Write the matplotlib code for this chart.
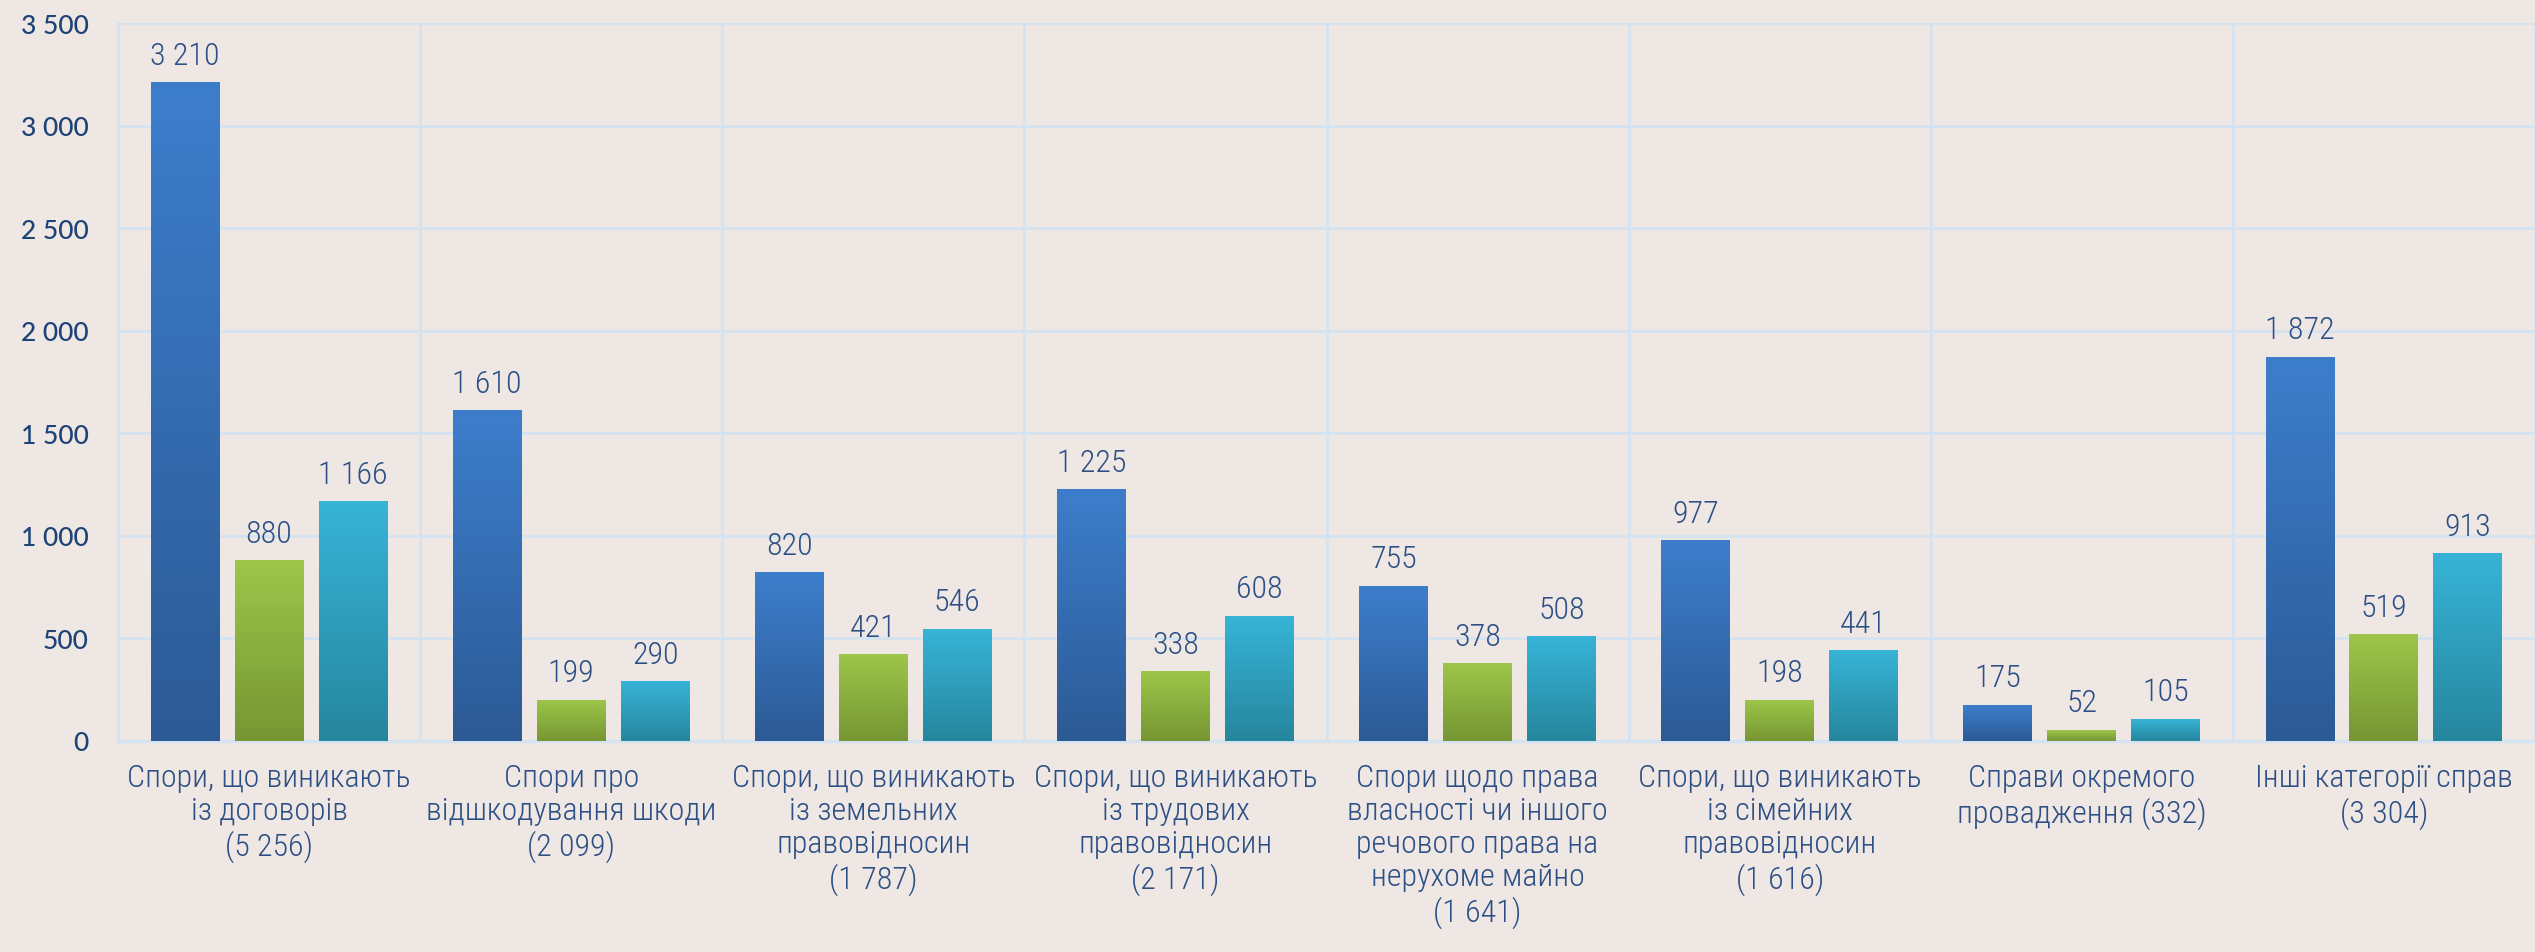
import numpy as np
import matplotlib
matplotlib.use("Agg")
import matplotlib.pyplot as plt
from matplotlib import font_manager
from matplotlib.colors import LinearSegmentedColormap
import matplotlib.patheffects as pe

categories = [
    "Спори, що виникають\nіз договорів\n(5 256)",
    "Спори про\nвідшкодування шкоди\n(2 099)",
    "Спори, що виникають\nіз земельних\nправовідносин\n(1 787)",
    "Спори, що виникають\nіз трудових\nправовідносин\n(2 171)",
    "Спори щодо права\nвласності чи іншого\nречового права на\nнерухоме майно\n(1 641)",
    "Спори, що виникають\nіз сімейних\nправовідносин\n(1 616)",
    "Справи окремого\nпровадження (332)",
    "Інші категорії справ\n(3 304)",
]
blue_vals = [3210, 1610, 820, 1225, 755, 977, 175, 1872]
green_vals = [880, 199, 421, 338, 378, 198, 52, 519]
teal_vals = [1166, 290, 546, 608, 508, 441, 105, 913]
yticks = [0, 500, 1000, 1500, 2000, 2500, 3000, 3500]

bg = "#EFE7E4"
grid_col = "#D5E3F1"
text_col = "#2C5085"

installed = {f.name for f in font_manager.fontManager.ttflist}
label_font = "Roboto"
for name in ["Roboto Condensed", "Liberation Sans Narrow", "Roboto"]:
    if name in installed:
        label_font = name
        break
tick_font = "Lato" if "Lato" in installed else "DejaVu Sans"

fig = plt.figure(figsize=(25.35, 9.53), dpi=100, facecolor=bg)
ax = fig.add_axes([118 / 2535, 211.5 / 953, 1 - 118 / 2535, 717.5 / 953])
ax.set_facecolor(bg)

x = np.arange(len(categories))
width = 0.228
offset = 0.278
series = [
    (blue_vals, -offset, "#3D7ECC", "#2C5A95"),
    (green_vals, 0.0, "#9DC64A", "#769633"),
    (teal_vals, offset, "#37B4D8", "#26869D"),
]

for vals, dx, top_c, bot_c in series:
    cmap = LinearSegmentedColormap.from_list("g", [bot_c, top_c])
    bars = ax.bar(x + dx, vals, width, color=top_c, zorder=3,
                  path_effects=[pe.SimplePatchShadow(offset=(0, -1.5), shadow_rgbFace="#555555", alpha=0.3),
                                pe.Normal()])
    for b, v in zip(bars, vals):
        x0, y0 = b.get_x(), b.get_y()
        grad = np.linspace(0, 1, 256).reshape(-1, 1)
        ax.imshow(grad, cmap=cmap, origin="lower", aspect="auto",
                  extent=(x0, x0 + b.get_width(), y0, y0 + b.get_height()), zorder=4)
        ax.annotate(f"{v:,}".replace(",", " "), (x0 + b.get_width() / 2, v),
                    xytext=(0, 9), textcoords="offset points", ha="center", va="bottom",
                    fontsize=23, color=text_col, family=label_font, fontweight="light", zorder=5)

ax.set_xlim(-0.5, len(categories) - 0.5)
ax.set_ylim(0, 3500)

ax.set_yticks(yticks)
ax.set_yticklabels([f"{t:,}".replace(",", " ") for t in yticks], family=tick_font,
                   fontsize=19, color="#1D4377", fontweight="medium")
ax.set_xticks(x)
ax.set_xticklabels(categories, family=label_font, fontsize=23, color=text_col,
                   linespacing=1.18, fontweight="light")
ax.set_xticks(np.arange(-0.5, len(categories), 1), minor=True)
ax.tick_params(axis="x", which="both", length=0, pad=16)
ax.tick_params(axis="y", length=0, pad=21)

ax.grid(axis="y", color=grid_col, linewidth=2, zorder=0)
ax.grid(axis="x", which="minor", color=grid_col, linewidth=2, zorder=0)
ax.grid(axis="x", which="major", visible=False)
for s in ["top", "right"]:
    ax.spines[s].set_visible(False)
ax.spines["left"].set_color(grid_col)
ax.spines["left"].set_linewidth(2)
ax.spines["bottom"].set_color(grid_col)
ax.spines["bottom"].set_linewidth(2.5)
ax.spines["bottom"].set_zorder(2)

fig.savefig("out.png", dpi=100, facecolor=bg)
